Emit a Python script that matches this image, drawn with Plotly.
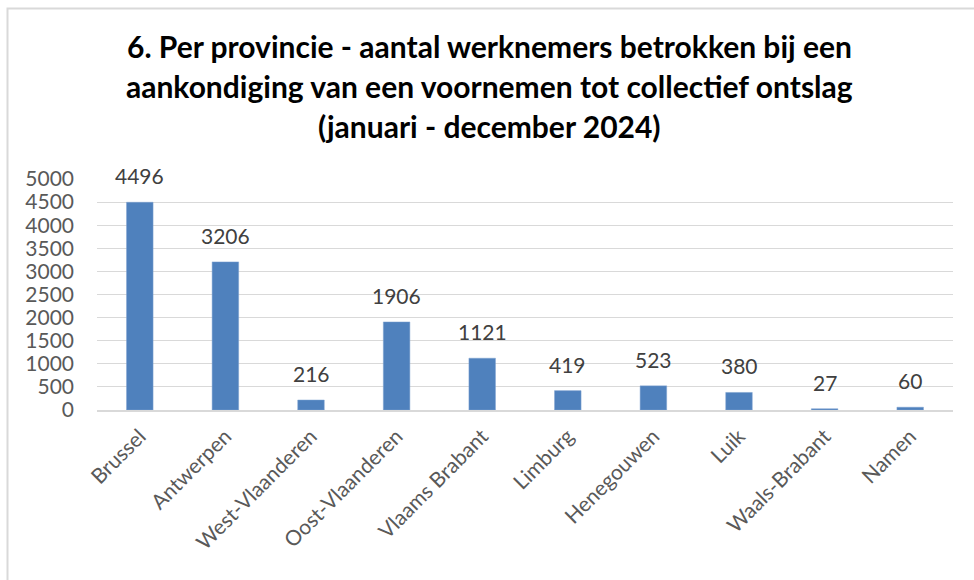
import plotly.graph_objects as go

provinces = ["Brussel", "Antwerpen", "West-Vlaanderen", "Oost-Vlaanderen", "Vlaams Brabant",
             "Limburg", "Henegouwen", "Luik", "Waals-Brabant", "Namen"]
werknemers = [4496, 3206, 216, 1906, 1121, 419, 523, 380, 27, 60]
y_ticks = [0, 500, 1000, 1500, 2000, 2500, 3000, 3500, 4000, 4500, 5000]
title_lines = ["6. Per provincie - aantal werknemers betrokken bij een",
               "aankondiging van een voornemen tot collectief ontslag",
               "(januari - december 2024)"]

W, H = 974, 580
L, R, T, B = 97, 21, 179, 170
pw, ph = W - L - R, H - T - B

def px_x(p):
    return (p - L) / pw

def px_y(p):
    return (H - B - p) / ph

fig = go.Figure()
fig.add_trace(go.Bar(
    x=provinces, y=werknemers,
    marker=dict(color="#4F81BD", line=dict(color="#7FA3D1", width=0.5)),
    cliponaxis=False, hoverinfo="x+y",
))

annotations = []
for cat, val in zip(provinces, werknemers):
    annotations.append(dict(
        x=cat, y=val, xref="x", yref="y", text=str(val), showarrow=False,
        xanchor="center", yanchor="bottom", yshift=12,
        font=dict(family="Lato", size=21, color="#404040"),
    ))
for i, line in enumerate(title_lines):
    annotations.append(dict(
        text=line, xref="paper", yref="paper",
        x=px_x(489), y=px_y(46 + 40 * i), xanchor="center", yanchor="middle",
        showarrow=False, font=dict(family="Lato", size=30, color="#000000", weight="bold"),
    ))

fig.update_layout(
    width=W, height=H,
    margin=dict(l=L, r=R, t=T, b=B, autoexpand=False),
    paper_bgcolor="white", plot_bgcolor="white",
    bargap=0.69,
    showlegend=False,
    annotations=annotations,
    shapes=[dict(type="rect", xref="paper", yref="paper",
                 x0=px_x(7.5), x1=px_x(990), y0=px_y(600), y1=px_y(8.5),
                 line=dict(color="#D9D9D9", width=2), fillcolor="rgba(0,0,0,0)", layer="below")],
)
fig.update_yaxes(
    range=[0, 5000], tickvals=y_ticks, showgrid=True, gridcolor="#D9D9D9", gridwidth=1,
    zeroline=False, showline=False, ticks="", ticklabelstandoff=22, automargin=False,
    tickfont=dict(family="Lato", size=21, color="#595959"),
)
fig.update_xaxes(
    showline=True, linecolor="#D9D9D9", linewidth=1.5, ticks="", tickangle=-45, automargin=False,
    ticklabelstandoff=4,
    tickfont=dict(family="Lato", size=21, color="#595959"), showgrid=False,
)

fig.write_html("out.html", config={"displayModeBar": False},
               post_script="document.body.style.margin='0';document.body.style.overflow='hidden';")
